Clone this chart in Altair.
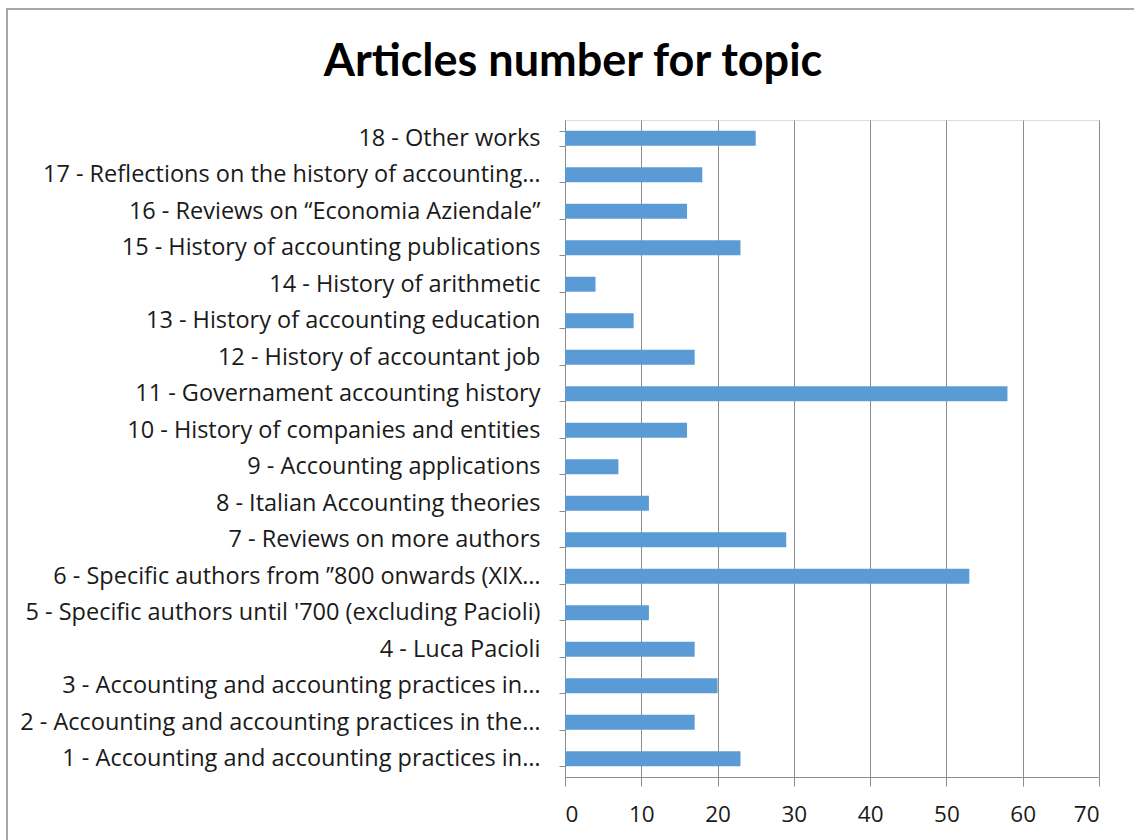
import altair as alt
import pandas as pd

topics = [
    "18 - Other works",
    "17 - Reflections on the history of accounting…",
    "16 - Reviews on “Economia Aziendale”",
    "15 - History of accounting publications",
    "14 - History of arithmetic",
    "13 - History of accounting education",
    "12 - History of accountant job",
    "11 - Governament accounting history",
    "10 - History of companies and entities",
    "9 - Accounting applications",
    "8 - Italian Accounting theories",
    "7 - Reviews on more authors",
    "6 - Specific authors from ’’800 onwards (XIX…",
    "5 - Specific authors until '700 (excluding Pacioli)",
    "4 - Luca Pacioli",
    "3 - Accounting and accounting practices in…",
    "2 - Accounting and accounting practices in the…",
    "1 - Accounting and accounting practices in…",
]
articles = [25, 18, 16, 23, 4, 9, 17, 58, 16, 7, 11, 29, 53, 11, 17, 20, 17, 23]
x_ticks = [0, 10, 20, 30, 40, 50, 60, 70]

df = pd.DataFrame({"topic": topics, "articles": articles})

LABEL_FONT = "Open Sans"
TITLE_FONT = "Lato"

bars = alt.Chart(df).mark_bar(color="#5B9BD5").encode(
    x=alt.X(
        "articles:Q",
        scale=alt.Scale(domain=[0, 70], nice=False),
        axis=alt.Axis(
            values=x_ticks,
            title=None,
            grid=True,
            gridColor="#8c8c8c",
            gridWidth=1,
            domainColor="#8c8c8c",
            tickColor="#8c8c8c",
            tickSize=9,
            labelPadding=17,
            labelFontSize=22.5,
            labelFont=LABEL_FONT,
            labelColor="#1a1a1a",
        ),
    ),
    y=alt.Y(
        "topic:N",
        sort=None,
        scale=alt.Scale(paddingInner=0.59, paddingOuter=0.295),
        axis=alt.Axis(
            title=None,
            domainColor="#8c8c8c",
            tickColor="#8c8c8c",
            tickSize=6,
            tickBand="extent",
            labelPadding=19,
            labelFontSize=23.5,
            labelFont=LABEL_FONT,
            labelColor="#1a1a1a",
            labelLimit=600,
        ),
    ),
)

frame = alt.Chart(alt.Data(values=[{}])).mark_rect(
    fillOpacity=0, stroke="#8a8a8a", strokeWidth=1.5, clip=False
).encode(
    x=alt.value(-558),
    x2=alt.value(580),
    y=alt.value(-111),
    y2=alt.value(740),
)

chart = (
    alt.layer(frame, bars)
    .properties(
        width=534,
        height=657,
        autosize=alt.AutoSizeParams(type="none"),
        padding={"left": 565, "top": 120, "right": 35, "bottom": 63},
        title=alt.TitleParams(
            "Articles number for topic",
            font=TITLE_FONT,
            fontSize=45,
            fontWeight="bold",
            color="#000000",
            anchor="middle",
            baseline="alphabetic",
            dx=-259,
            dy=113,
            offset=0,
        ),
    )
    .configure_view(strokeWidth=0)
    .configure(background="white")
)

chart.save("out.html", embed_options={"renderer": "svg", "actions": False})
